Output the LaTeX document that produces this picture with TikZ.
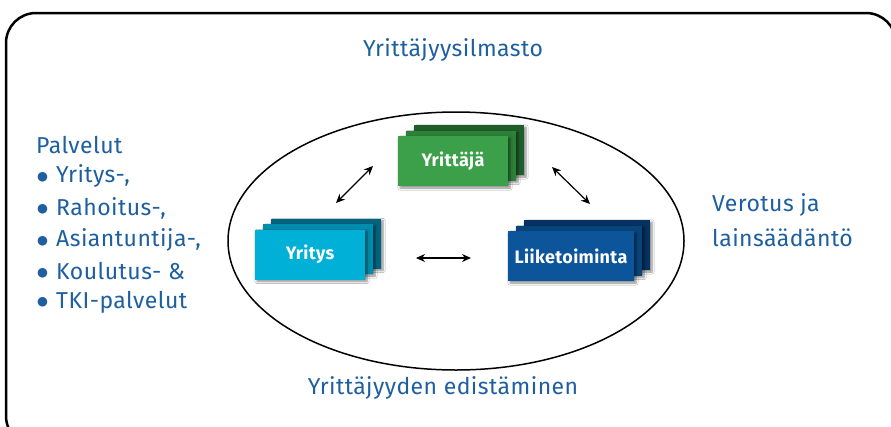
\documentclass[tikz,border=0pt]{standalone}
\usepackage{fontspec}
\setmainfont{Fira Sans}[LetterSpace=2]
\newfontfamily\symfont{DejaVu Sans}
\usetikzlibrary{arrows.meta,shadows.blur}
\definecolor{txtblue}{RGB}{30,95,160}
\definecolor{grA}{RGB}{60,159,74}
\definecolor{grB}{RGB}{44,128,56}
\definecolor{grC}{RGB}{31,94,42}
\definecolor{cyA}{RGB}{0,176,214}
\definecolor{cyB}{RGB}{0,140,172}
\definecolor{cyC}{RGB}{0,100,128}
\definecolor{blA}{RGB}{12,85,154}
\definecolor{blB}{RGB}{8,68,124}
\definecolor{blC}{RGB}{5,50,94}
% list bullet in a fixed-width slot
\newcommand\listdot{\makebox[20pt][l]{\hspace{1pt}\raisebox{2.5pt}{\symfont\fontsize{12.5}{14}\selectfont ●}}}
\tikzset{
  card/.style={minimum height=50pt, inner sep=0pt, outer sep=0pt,
    blur shadow={shadow xshift=2pt, shadow yshift=-2pt, shadow blur steps=6, shadow opacity=45}},
  cardlabel/.style={text=white, font=\bfseries\fontsize{18}{20}\selectfont},
  plain/.style={text=txtblue, font=\fontsize{23}{26}\selectfont, inner sep=0pt},
  listtxt/.style={text=txtblue, font=\fontsize{23}{26}\selectfont, inner sep=0pt, anchor=west},
  link/.style={line width=1.2pt, {Stealth[length=9pt,width=8pt]}-{Stealth[length=9pt,width=8pt]}}
}
\begin{document}
\begin{tikzpicture}[x=1pt,y=-1pt]
\useasboundingbox (0,0) rectangle (891,426);
\fill[white] (0,0) rectangle (891,426);

% outer frame
\draw[line width=2.5pt, rounded corners=30pt] (6,13) rectangle (896,446);

% inner ellipse
\draw[line width=1.5pt] (456,241) ellipse [x radius=228pt, y radius=129pt];

% Yrittäjä stack
\node[card, fill=grC, minimum width=110pt] (yr3) at (469,150) {};
\node[card, fill=grB, minimum width=110pt] (yr2) at (461,155.5) {};
\node[card, fill=grA, minimum width=110pt, cardlabel] (yrittaja) at (453,161) {Yrittäjä};

% Yritys stack
\node[card, fill=cyC, minimum width=110pt] (yt3) at (326,243.5) {};
\node[card, fill=cyB, minimum width=110pt] (yt2) at (318,249) {};
\node[card, fill=cyA, minimum width=110pt, cardlabel] (yritys) at (310,254.5) {Yritys};

% Liiketoiminta stack
\node[card, fill=blC, minimum width=126pt] (lt3) at (587,245) {};
\node[card, fill=blB, minimum width=126pt] (lt2) at (579,250.5) {};
\node[card, fill=blA, minimum width=126pt, cardlabel] (liike) at (571,256) {Liiketoiminta};

% connector end points
\coordinate (a1) at (336,203);
\coordinate (a2) at (373,166);
\coordinate (b1) at (552,167);
\coordinate (b2) at (590,204);
\coordinate (c1) at (416,258);
\coordinate (c2) at (471,258);
\draw[link] (a1) -- (a2);
\draw[link] (b1) -- (b2);
\draw[link] (c1) -- (c2);

% labels
\node[plain] (ilmasto) at (453,50) {Yrittäjyysilmasto};
\node[plain] (edist) at (443,388) {Yrittäjyyden edistäminen};
\node[listtxt] (verotus) at (712,205) {Verotus ja};
\node[listtxt] (laki) at (712,238) {lainsäädäntö};

\node[listtxt] (palv) at (36,145) {Palvelut};
\node[listtxt] (p1) at (36,176) {\listdot Yritys-,};
\node[listtxt] (p2) at (36,208) {\listdot Rahoitus-,};
\node[listtxt] (p3) at (36,240) {\listdot Asiantuntija-,};
\node[listtxt] (p4) at (36,271) {\listdot Koulutus- \&};
\node[listtxt] (p5) at (36,302) {\listdot TKI-palvelut};
\end{tikzpicture}
\end{document}
